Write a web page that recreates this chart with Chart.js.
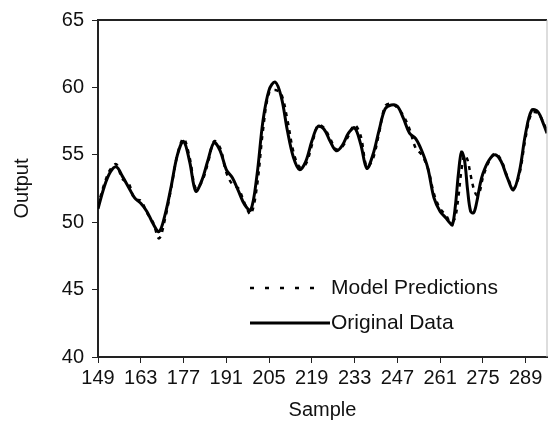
<!DOCTYPE html>
<html lang="en">
<head>
  <meta charset="UTF-8" />
  <title>Output vs Sample</title>
  <script src="https://cdn.jsdelivr.net/npm/chart.js"></script>
  <style>
    html, body {
      margin: 0;
      padding: 0;
      background: #fff;
    }
    #wrap {
      width: 548px;
      height: 427px;
    }
  </style>
</head>
<body>
  <div id="wrap"><canvas id="outputChart" width="548" height="427"></canvas></div>

  <script>
    // sample numbers (denser around the sharp swing near 265-275)
    const samples = [
      149, 151, 153, 155, 157, 159, 161, 163, 165, 167, 169, 171, 173, 175, 177, 179,
      181, 183, 185, 187, 189, 191, 193, 195, 197, 199, 201, 203, 205, 207, 209, 211,
      213, 215, 217, 219, 221, 223, 225, 227, 229, 231, 233, 235, 237, 239, 241, 243,
      245, 247, 249, 251, 253, 255, 257, 259, 261, 263, 264, 265, 266, 267, 268, 269,
      270, 271, 272, 273, 274, 275, 277, 279, 281, 283, 285, 287, 289, 291, 293, 295, 296
    ];

    const originalData = [
      51.0, 52.6, 53.7, 54.1, 53.4, 52.6, 51.8, 51.4, 50.8, 49.9, 49.3, 50.6, 52.7, 55.0, 56.0, 54.5,
      52.3, 53.1, 54.6, 55.9, 55.3, 53.9, 53.3, 52.3, 51.3, 50.9, 53.4, 57.5, 59.8, 60.4, 59.3, 56.8,
      54.8, 53.9, 54.5, 56.0, 57.1, 56.9, 56.0, 55.3, 55.7, 56.6, 57.0, 55.8, 54.0, 55.0, 56.8, 58.4,
      58.7, 58.6, 57.7, 56.6, 56.2, 55.3, 54.0, 51.8, 50.8, 50.3, 50.0, 49.8, 51.2, 53.6, 55.2, 54.6,
      52.4, 50.8, 50.7, 51.5, 52.7, 53.6, 54.6, 55.0, 54.5, 53.3, 52.4, 53.8, 56.6, 58.3, 58.2, 57.2, 56.6
    ];

    const modelPredictions = [
      51.2, 52.8, 53.9, 54.3, 53.2, 52.9, 51.7, 51.6, 50.7, 50.0, 48.8, 50.3, 52.6, 55.0, 56.2, 54.8,
      52.5, 53.0, 54.4, 56.0, 55.5, 53.7, 52.8, 52.5, 51.4, 50.6, 52.6, 56.8, 59.6, 59.8, 59.5, 57.6,
      55.2, 54.1, 54.3, 55.7, 57.2, 57.0, 56.2, 55.4, 55.6, 56.4, 57.2, 56.4, 54.1, 54.7, 56.6, 58.6,
      58.8, 58.5, 57.9, 56.9, 55.5, 55.0, 54.0, 52.1, 51.0, 50.5, 50.1, 50.0, 50.4, 51.9, 53.9, 55.0,
      54.6, 53.5, 52.5, 52.0, 52.3, 53.3, 54.5, 55.1, 54.6, 53.4, 52.5, 53.6, 56.3, 58.1, 58.1, 57.3, 56.7
    ];

    const sampleTicks = [149, 163, 177, 191, 205, 219, 233, 247, 261, 275, 289];
    const outputTicks = [40, 45, 50, 55, 60, 65];

    const FONT = 'Arial, "Liberation Sans", sans-serif';

    // frame on top/right and the legend inside the plot
    const framePlugin = {
      id: 'frame',
      afterDatasetsDraw(chart) {
        const { ctx, chartArea } = chart;
        const a = chartArea;
        ctx.save();
        ctx.strokeStyle = '#222';
        ctx.lineWidth = 2;
        ctx.beginPath();
        ctx.moveTo(a.left, a.top);
        ctx.lineTo(a.right, a.top);
        ctx.stroke();
        ctx.strokeStyle = '#bbb';
        ctx.lineWidth = 1;
        ctx.beginPath();
        ctx.moveTo(a.right, a.top);
        ctx.lineTo(a.right, a.bottom);
        ctx.stroke();

        // legend
        const lx = a.left + 152;
        const lx2 = a.left + 232;
        const y1 = a.top + 268;
        const y2 = a.top + 303;
        ctx.strokeStyle = '#000';
        ctx.lineWidth = 2.5;
        ctx.setLineDash([4, 11]);
        ctx.beginPath();
        ctx.moveTo(lx, y1);
        ctx.lineTo(lx2 - 10, y1);
        ctx.stroke();
        ctx.setLineDash([]);
        ctx.lineWidth = 3;
        ctx.beginPath();
        ctx.moveTo(lx, y2);
        ctx.lineTo(lx2, y2);
        ctx.stroke();
        ctx.fillStyle = '#111';
        ctx.font = '21px ' + FONT;
        ctx.textBaseline = 'middle';
        ctx.fillText('Model Predictions', lx2 + 1, y1);
        ctx.fillText('Original Data', lx2 + 1, y2);
        ctx.restore();
      }
    };

    const ctx = document.getElementById('outputChart').getContext('2d');

    new Chart(ctx, {
      type: 'line',
      data: {
        datasets: [
          {
            label: 'Original Data',
            data: samples.map((s, i) => ({ x: s, y: originalData[i] })),
            borderColor: '#000',
            borderWidth: 3,
            pointRadius: 0,
            fill: false,
            tension: 0.35
          },
          {
            label: 'Model Predictions',
            data: samples.map((s, i) => ({ x: s, y: modelPredictions[i] })),
            borderColor: '#000',
            borderWidth: 2.5,
            borderDash: [4, 5],
            pointRadius: 0,
            fill: false,
            tension: 0.35
          }
        ]
      },
      options: {
        responsive: false,
        animation: false,
        layout: {
          padding: { top: 16, right: 1, left: 0, bottom: 0 }
        },
        plugins: {
          legend: { display: false },
          tooltip: { enabled: false }
        },
        scales: {
          x: {
            type: 'linear',
            min: 149,
            max: 296,
            afterBuildTicks: axis => {
              axis.ticks = sampleTicks.map(v => ({ value: v }));
            },
            afterFit: scale => {
              scale.height = 70;
            },
            grid: {
              drawOnChartArea: false,
              drawTicks: true,
              tickLength: 6,
              color: '#222'
            },
            border: { color: '#222', width: 2 },
            ticks: {
              color: '#111',
              font: { family: FONT, size: 20 },
              padding: 3,
              maxRotation: 0,
              autoSkip: false
            },
            title: {
              display: true,
              text: 'Sample',
              color: '#111',
              font: { family: FONT, size: 20 },
              padding: { top: 0, bottom: 5 }
            }
          },
          y: {
            min: 40,
            max: 65,
            afterBuildTicks: axis => {
              axis.ticks = outputTicks.map(v => ({ value: v }));
            },
            afterFit: scale => {
              scale.width = 98;
            },
            grid: {
              drawOnChartArea: false,
              drawTicks: true,
              tickLength: 6,
              color: '#222'
            },
            border: { color: '#222', width: 2 },
            ticks: {
              color: '#111',
              font: { family: FONT, size: 20 },
              padding: 8
            },
            title: {
              display: true,
              text: 'Output',
              color: '#111',
              font: { family: FONT, size: 20 },
              padding: { top: 10, bottom: 0 }
            }
          }
        }
      },
      plugins: [framePlugin]
    });
  </script>
</body>
</html>
